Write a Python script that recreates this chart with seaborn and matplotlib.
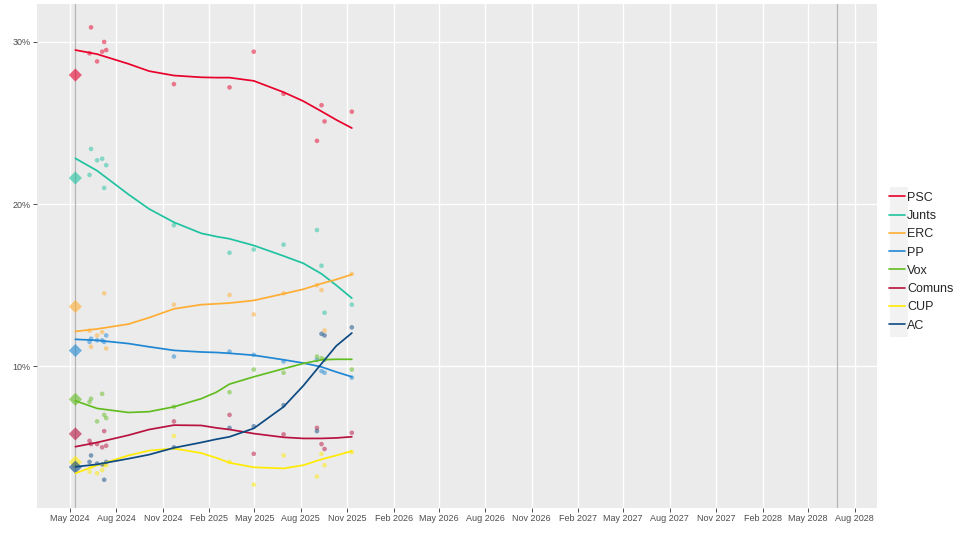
import numpy as np
import pandas as pd
import seaborn as sns
import matplotlib.pyplot as plt
import matplotlib.dates as mdates
from matplotlib.lines import Line2D
from matplotlib.patches import Rectangle
from matplotlib.ticker import FixedLocator, FuncFormatter

parties = ["PSC", "Junts", "ERC", "PP", "Vox", "Comuns", "CUP", "AC"]
colors = ["#E8002B", "#1FC3A0", "#FFAE33", "#1F87D3", "#62BD21", "#B8123F", "#FFEA00", "#0D4A82"]

election_date = "2024-05-12"
next_election_date = "2028-06-26"
election_result = [27.96, 21.61, 13.68, 10.97, 7.96, 5.83, 4.09, 3.78]

# poll fieldwork dates
poll_dates = ["2024-06-09", "2024-06-12", "2024-06-24", "2024-07-04", "2024-07-08",
              "2024-07-12", "2024-11-23", "2025-03-13", "2025-04-30", "2025-06-28",
              "2025-09-02", "2025-09-11", "2025-09-17", "2025-11-10"]
psc    = [29.3, 30.9, 28.8, 29.4, 30.0, 29.5, 27.4, 27.2, 29.4, 26.8, 23.9, 26.1, 25.1, 25.7]
junts  = [21.8, 23.4, 22.7, 22.8, 21.0, 22.4, 18.7, 17.0, 17.2, 17.5, 18.4, 16.2, 13.3, 13.8]
erc    = [12.2, 11.2, 11.9, 12.1, 14.5, 11.1, 13.8, 14.4, 13.2, 14.5, 15.0, 14.7, 12.2, 15.7]
pp     = [11.5, 11.7, 11.6, 11.6, 11.5, 11.9, 10.6, 10.9, 10.7, 10.3, 10.4, 9.7, 9.6, 9.3]
vox    = [7.8, 8.0, 6.6, 8.3, 7.0, 6.8, 7.5, 8.4, 9.8, 9.6, 10.6, 10.5, 10.4, 9.8]
comuns = [5.4, 5.2, 5.2, 5.0, 6.0, 5.1, 6.6, 7.0, 4.6, 5.8, 6.2, 5.2, 4.9, 5.9]
cup    = [3.5, 3.8, 3.4, 3.6, 3.9, 3.9, 5.7, 4.1, 2.7, 4.5, 3.2, 4.6, 3.9, 4.7]
ac     = [4.1, 4.5, 4.0, 3.95, 3.0, 4.1, 5.0, 6.2, 6.3, 7.6, 6.0, 12.0, 11.9, 12.4]

# smoothed trend
trend_dates = ["2024-05-12", "2024-06-24", "2024-08-25", "2024-10-05", "2024-11-23",
               "2025-01-16", "2025-02-15", "2025-03-13", "2025-04-30", "2025-06-28",
               "2025-08-06", "2025-09-11", "2025-10-10", "2025-11-10"]
psc_trend    = [29.5, 29.25, 28.65, 28.2, 27.93, 27.82, 27.8, 27.8, 27.6, 26.9, 26.35, 25.72, 25.2, 24.69]
junts_trend  = [22.82, 22.06, 20.6, 19.7, 18.88, 18.2, 18.0, 17.86, 17.45, 16.8, 16.35, 15.7, 15.0, 14.2]
erc_trend    = [12.15, 12.3, 12.6, 13.0, 13.54, 13.8, 13.85, 13.9, 14.06, 14.47, 14.75, 15.1, 15.35, 15.66]
pp_trend     = [11.66, 11.6, 11.4, 11.2, 10.98, 10.88, 10.85, 10.8, 10.68, 10.4, 10.2, 9.96, 9.65, 9.35]
vox_trend    = [7.87, 7.4, 7.15, 7.2, 7.5, 8.0, 8.4, 8.9, 9.35, 9.85, 10.17, 10.4, 10.43, 10.43]
comuns_trend = [5.04, 5.3, 5.75, 6.1, 6.37, 6.35, 6.2, 6.1, 5.85, 5.62, 5.55, 5.55, 5.58, 5.65]
cup_trend    = [3.4, 3.9, 4.5, 4.8, 4.93, 4.65, 4.35, 4.05, 3.77, 3.7, 3.9, 4.26, 4.5, 4.77]
ac_trend     = [3.8, 3.95, 4.3, 4.55, 4.97, 5.3, 5.5, 5.65, 6.17, 7.5, 8.8, 10.16, 11.25, 12.05]

poll_values = [psc, junts, erc, pp, vox, comuns, cup, ac]
trend_values = [psc_trend, junts_trend, erc_trend, pp_trend, vox_trend,
                comuns_trend, cup_trend, ac_trend]

polls = pd.concat([pd.DataFrame({"date": pd.to_datetime(poll_dates), "party": p, "value": v})
                   for p, v in zip(parties, poll_values)])
trend = pd.concat([pd.DataFrame({"date": pd.to_datetime(trend_dates), "party": p, "value": v})
                   for p, v in zip(parties, trend_values)])
result = pd.DataFrame({"date": pd.to_datetime(election_date), "party": parties,
                       "value": election_result})
palette = dict(zip(parties, colors))

sns.set_theme(style="darkgrid", rc={"axes.facecolor": "#EBEBEB", "grid.color": "white"})
plt.rcParams["font.family"] = ["Liberation Sans", "DejaVu Sans"]

fig, ax = plt.subplots(figsize=(9.6, 5.34), dpi=100)
fig.subplots_adjust(left=0.0385, right=0.9135, bottom=0.0487, top=0.9925)

ax.axvline(pd.Timestamp(election_date), color="#B5B5B5", lw=0.9, zorder=1)
ax.axvline(pd.Timestamp(next_election_date), color="#B5B5B5", lw=0.9, zorder=1)

sns.scatterplot(data=polls, x="date", y="value", hue="party", palette=palette,
                s=11, alpha=0.5, linewidth=0, legend=False, ax=ax, zorder=2)
sns.scatterplot(data=result, x="date", y="value", hue="party", palette=palette,
                marker="D", s=45, alpha=0.6, linewidth=0, legend=False, ax=ax, zorder=3)
sns.lineplot(data=trend, x="date", y="value", hue="party", palette=palette,
             lw=1.25, legend=False, ax=ax, zorder=4)

ax.set_xlim(pd.Timestamp("2024-02-26"), pd.Timestamp("2028-09-14"))
ax.set_ylim(1.26, 32.34)

ax.xaxis.set_major_locator(mdates.MonthLocator(bymonth=(2, 5, 8, 11)))
ax.xaxis.set_major_formatter(mdates.DateFormatter("%b %Y"))
ax.yaxis.set_major_locator(FixedLocator([10, 20, 30]))
ax.yaxis.set_major_formatter(FuncFormatter(lambda v, pos: f"{v:.0f}%"))

ax.grid(which="major", color="white", lw=1.0)
ax.set_axisbelow(True)
for s in ax.spines.values():
    s.set_visible(False)

ax.tick_params(axis="both", which="major", bottom=True, left=True, length=3, width=0.6,
               color="#333333", labelcolor="#4D4D4D", labelsize=6.5, pad=1.5)
ax.set_xlabel("")
ax.set_ylabel("")

fig.patches.append(Rectangle((0.927, 0.369), 0.019, 0.281, transform=fig.transFigure,
                             facecolor="#F2F2F2", edgecolor="none", zorder=0))
handles = [Line2D([0], [0], color=c, lw=1.2) for c in colors]
fig.legend(handles, parties, loc="center left", bbox_to_anchor=(0.926, 0.51),
           frameon=False, fontsize=9, handlelength=1.3, handletextpad=0.15,
           labelspacing=0.5, borderpad=0, borderaxespad=0)

fig.savefig("out.png", dpi=100)
